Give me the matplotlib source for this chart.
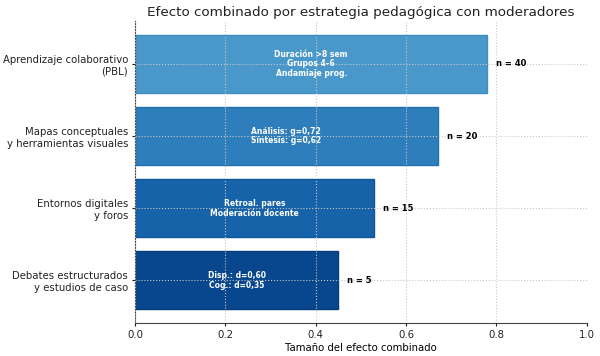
import matplotlib
matplotlib.use("Agg")
import matplotlib.pyplot as plt

categories = ["Debates estructurados\ny estudios de caso",
              "Entornos digitales\ny foros",
              "Mapas conceptuales\ny herramientas visuales",
              "Aprendizaje colaborativo\n(PBL)"]
effects = [0.45, 0.53, 0.67, 0.78]
n_studies = [5, 15, 20, 40]
moderators = ["Disp.: d=0,60\nCog.: d=0,35",
              "Retroal. pares\nModeración docente",
              "Análisis: g=0,72\nSíntesis: g=0,62",
              "Duración >8 sem\nGrupos 4–6\nAndamiaje prog."]
colors = ["#08478d", "#1763aa", "#2e7ebc", "#4a98ca"]
edges = ["#063a75", "#10559a", "#2170b0", "#3f8dc2"]

fig, ax = plt.subplots(figsize=(6, 3.56), dpi=100)
fig.subplots_adjust(left=0.225, right=0.978, bottom=0.093, top=0.94)

y = list(range(len(categories)))
bars = ax.barh(y, effects, height=0.8, color=colors, edgecolor=edges, linewidth=1, zorder=2)

for yi, v, n, m in zip(y, effects, n_studies, moderators):
    ax.text(v / 2, yi, m, ha="center", va="center", color="white",
            fontsize=5.5, fontweight="bold", zorder=4, linespacing=1.1)
    ax.text(v + 0.02, yi, f"n = {n}", ha="left", va="center", color="black",
            fontsize=6, fontweight="bold", zorder=4)

ax.set_yticks(y)
ax.set_yticklabels(categories, fontsize=7.3)
ax.set_xlim(0, 1.0)
ax.set_xticks([0, 0.2, 0.4, 0.6, 0.8, 1.0])
ax.set_xticklabels(["0.0", "0.2", "0.4", "0.6", "0.8", "1.0"], fontsize=7.3)
ax.set_xlabel("Tamaño del efecto combinado", fontsize=7.3, labelpad=2)
ax.set_title("Efecto combinado por estrategia pedagógica con moderadores",
             fontsize=9.7, color="#222222", pad=4)

ax.grid(True, linestyle=":", color="#c8c8c8", linewidth=0.8, zorder=3)
ax.set_axisbelow(False)
for s in ["top", "right"]:
    ax.spines[s].set_visible(False)
for s in ["left", "bottom"]:
    ax.spines[s].set_color("#444444")
ax.tick_params(colors="#222222", labelcolor="#222222", length=2.5, pad=2.5)

fig.savefig("out.png", dpi=100)
